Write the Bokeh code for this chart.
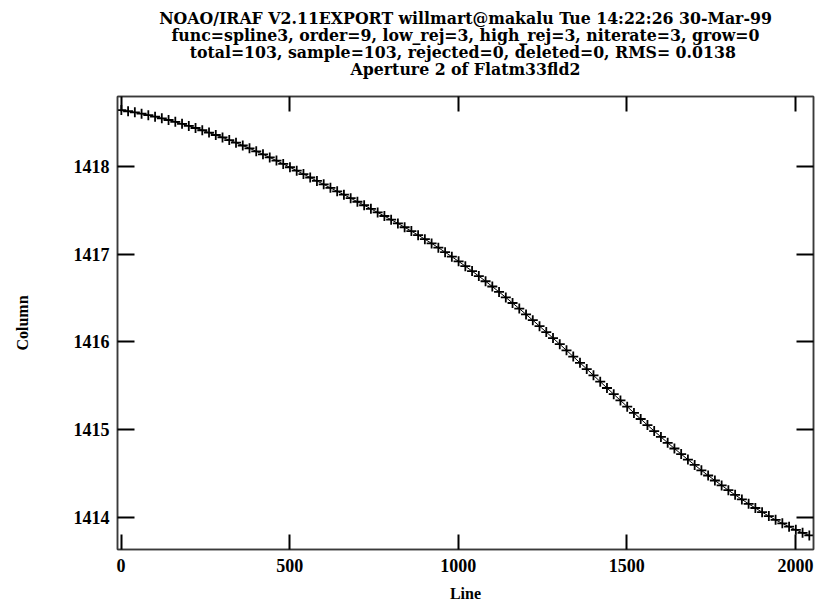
from bokeh.plotting import figure
from bokeh.models import Range1d, LinearAxis, FixedTicker, Title
from bokeh.embed import file_html
from bokeh.resources import INLINE

# Trace of aperture 2: column position sampled every 20 lines (103 samples)
lines = list(range(1, 2042, 20))
column = [
    1418.643, 1418.630, 1418.617, 1418.602, 1418.585, 1418.568, 1418.549, 1418.530,
    1418.509, 1418.486, 1418.463, 1418.439, 1418.413, 1418.387, 1418.359, 1418.331,
    1418.301, 1418.271, 1418.239, 1418.207, 1418.173, 1418.139, 1418.103, 1418.067,
    1418.029, 1417.991, 1417.952, 1417.913, 1417.874, 1417.835, 1417.796, 1417.756,
    1417.717, 1417.678, 1417.638, 1417.598, 1417.558, 1417.517, 1417.476, 1417.435,
    1417.393, 1417.351, 1417.307, 1417.263, 1417.217, 1417.171, 1417.123, 1417.074,
    1417.023, 1416.971, 1416.918, 1416.863, 1416.807, 1416.750, 1416.691, 1416.631,
    1416.569, 1416.507, 1416.443, 1416.379, 1416.313, 1416.247, 1416.179, 1416.111,
    1416.043, 1415.973, 1415.903, 1415.832, 1415.761, 1415.690, 1415.618, 1415.546,
    1415.474, 1415.403, 1415.332, 1415.261, 1415.190, 1415.120, 1415.051, 1414.983,
    1414.916, 1414.849, 1414.784, 1414.720, 1414.657, 1414.596, 1414.535, 1414.476,
    1414.419, 1414.363, 1414.308, 1414.255, 1414.203, 1414.153, 1414.105, 1414.058,
    1414.013, 1413.970, 1413.930, 1413.892, 1413.856, 1413.822, 1413.793,
]

x_ticks = [0, 500, 1000, 1500, 2000]
y_ticks = [1414, 1415, 1416, 1417, 1418]

title_lines = [
    "NOAO/IRAF V2.11EXPORT willmart@makalu Tue 14:22:26 30-Mar-99",
    "func=spline3, order=9, low_rej=3, high_rej=3, niterate=3, grow=0",
    "total=103, sample=103, rejected=0, deleted=0, RMS=  0.0138",
    "Aperture 2 of Flatm33fld2",
]

SERIF = "Liberation Serif"
TITLE_FONT = "DejaVu Serif Condensed"

p = figure(
    width=815, height=605,
    output_backend="svg", toolbar_location=None,
    x_range=Range1d(-10.4, 2053.4), y_range=Range1d(1413.632, 1418.798),
    x_axis_location=None, y_axis_location=None,
    min_border_left=117, min_border_right=2, min_border_top=96, min_border_bottom=56,
    background_fill_color="white", border_fill_color="white",
)
p.grid.visible = False
p.outline_line_color = "#3a3a3a"
p.outline_line_width = 1.5


def style_axis(ax, ticks, labels=True):
    ax.ticker = FixedTicker(ticks=ticks)
    ax.axis_line_color = "#3a3a3a"
    ax.axis_line_width = 1.5
    ax.major_tick_line_color = "black"
    ax.major_tick_line_width = 2
    ax.major_tick_out = 0
    ax.minor_tick_in = 0
    ax.minor_tick_out = 0
    if labels:
        ax.major_label_text_font = SERIF
        ax.major_label_text_font_style = "bold"
        ax.major_label_text_font_size = "18px"
        ax.major_label_text_color = "black"
        ax.axis_label_text_font = SERIF
        ax.axis_label_text_font_style = "bold"
        ax.axis_label_text_font_size = "16px"
        ax.axis_label_text_color = "black"
    else:
        ax.major_label_overrides = {t: "" for t in ticks}
        ax.major_label_standoff = 0


bottom = LinearAxis(axis_label="Line")
style_axis(bottom, x_ticks)
bottom.major_tick_in = 15
bottom.major_label_standoff = 9
bottom.axis_label_standoff = 10
p.add_layout(bottom, "below")

left = LinearAxis(axis_label="Column")
style_axis(left, y_ticks)
left.major_tick_in = 17
left.major_label_standoff = 8
left.axis_label_standoff = 40
p.add_layout(left, "left")

# mirrored tick marks along the top and right edges of the frame
top = LinearAxis()
style_axis(top, x_ticks, labels=False)
top.major_tick_in = 15
p.add_layout(top, "above")

right = LinearAxis()
style_axis(right, y_ticks, labels=False)
right.major_tick_in = 17
p.add_layout(right, "right")

# blank band between the frame and the header
spacer = LinearAxis()
style_axis(spacer, x_ticks, labels=False)
spacer.major_tick_in = 0
spacer.major_tick_out = 20
spacer.major_tick_line_alpha = 0
spacer.axis_line_alpha = 0
p.add_layout(spacer, "above")

# four-line header; the last line is added first so it sits nearest the frame
for txt in reversed(title_lines):
    p.add_layout(Title(text=txt, align="center", text_font=TITLE_FONT,
                       text_font_size="17.5px", text_font_style="bold",
                       text_color="black", standoff=-4.7, offset=0), "above")

# fitted trace and the measured points
p.line(lines, column, line_color="black", line_width=1)
p.scatter(lines, column, marker="cross", size=10, line_color="black", line_width=1.8)

open("out.html", "w").write(file_html(p, INLINE))
